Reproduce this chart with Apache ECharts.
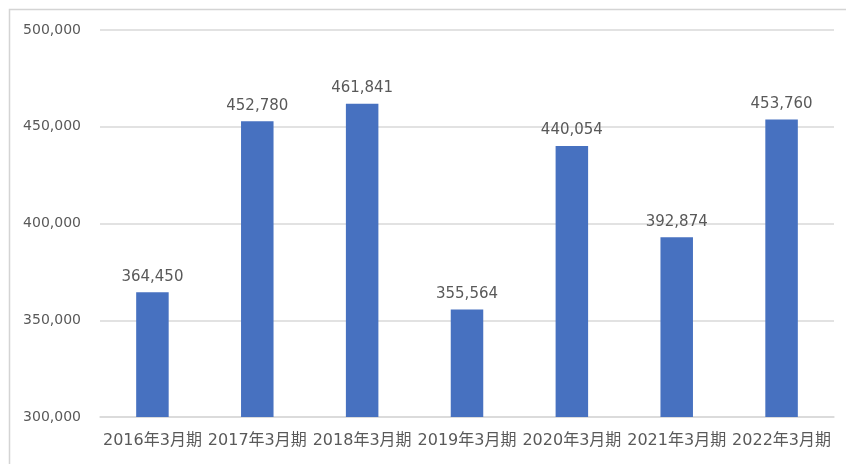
<!DOCTYPE html>
<html><head><meta charset="utf-8">
<script src="https://cdn.jsdelivr.net/npm/echarts@6/dist/echarts.min.js"></script>
<style>html,body{margin:0;padding:0;background:#fff}#c{width:846px;height:464px}</style>
</head><body><div id="c"></div>
<script>
const categories = ['2016年3月期','2017年3月期','2018年3月期','2019年3月期','2020年3月期','2021年3月期','2022年3月期'];
const values = [364450, 452780, 461841, 355564, 440054, 392874, 453760];
const yMin = 300000, yMax = 500000, yStep = 50000;

const chart = echarts.init(document.getElementById('c'));
const fam = '"DejaVu Sans", "Noto Sans CJK JP", sans-serif';
chart.setOption({
  animation: false,
  backgroundColor: '#fff',
  graphic: [{type:'rect', shape:{x:9.5, y:9.5, width:900, height:600}, style:{fill:'none', stroke:'#d4d4d4', lineWidth:1.5}, silent:true}],
  grid: {left: 100, right: 12, top: 30, bottom: 47},
  xAxis: {
    type: 'category', data: categories,
    axisLine: {lineStyle: {color: '#d9d9d9', width: 1.5}},
    axisTick: {show: false},
    axisLabel: {interval: 0, color: '#595959', fontSize: 16, fontFamily: fam, margin: 16}
  },
  yAxis: {
    type: 'value', min: yMin, max: yMax, interval: yStep,
    axisLine: {show: false}, axisTick: {show: false},
    splitLine: {lineStyle: {color: '#d9d9d9', width: 1.5}},
    axisLabel: {color: '#595959', fontSize: 14, fontFamily: fam, margin: 19,
      formatter: v => v.toLocaleString('en-US')}
  },
  series: [{
    type: 'bar', data: values, barWidth: '31%',
    itemStyle: {color: '#4771c0'},
    label: {show: true, position: 'top', distance: 8, color: '#595959', fontSize: 15, fontFamily: fam,
      formatter: p => p.value.toLocaleString('en-US')}
  }]
});
</script></body></html>
